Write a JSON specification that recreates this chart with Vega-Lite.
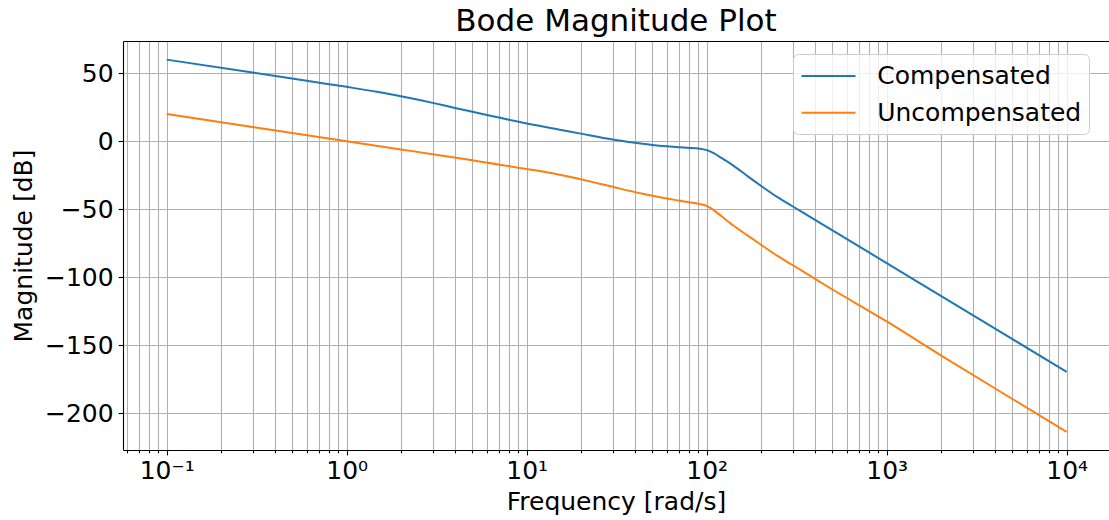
{
  "$schema": "https://vega.github.io/schema/vega-lite/v6.json",
  "width": 986,
  "height": 409,
  "autosize": {"type": "none"},
  "padding": {"left": 123, "top": 41, "right": 0, "bottom": 70},
  "title": {
    "text": "Bode Magnitude Plot",
    "font": "DejaVu Sans",
    "fontSize": 31,
    "fontWeight": "normal",
    "color": "black",
    "baseline": "bottom",
    "offset": 2,
    "dy": 30
  },
  "config": {
    "view": {"stroke": null},
    "font": "DejaVu Sans",
    "background": "white"
  },
  "data": {
    "values": [
      {"w": 0.1, "mag": 60.0, "series": "Compensated"},
      {"w": 0.3, "mag": 50.5, "series": "Compensated"},
      {"w": 0.6, "mag": 44.4, "series": "Compensated"},
      {"w": 1, "mag": 40.0, "series": "Compensated"},
      {"w": 1.5, "mag": 36.2, "series": "Compensated"},
      {"w": 2, "mag": 33.1, "series": "Compensated"},
      {"w": 3, "mag": 28.2, "series": "Compensated"},
      {"w": 4, "mag": 24.5, "series": "Compensated"},
      {"w": 5, "mag": 21.7, "series": "Compensated"},
      {"w": 7, "mag": 17.4, "series": "Compensated"},
      {"w": 10, "mag": 13.0, "series": "Compensated"},
      {"w": 15, "mag": 8.7, "series": "Compensated"},
      {"w": 20, "mag": 5.6, "series": "Compensated"},
      {"w": 30, "mag": 1.3, "series": "Compensated"},
      {"w": 40, "mag": -1.1, "series": "Compensated"},
      {"w": 50, "mag": -2.7, "series": "Compensated"},
      {"w": 60, "mag": -3.7, "series": "Compensated"},
      {"w": 70, "mag": -4.4, "series": "Compensated"},
      {"w": 80, "mag": -4.9, "series": "Compensated"},
      {"w": 90, "mag": -5.4, "series": "Compensated"},
      {"w": 100, "mag": -6.5, "series": "Compensated"},
      {"w": 110, "mag": -9.0, "series": "Compensated"},
      {"w": 120, "mag": -12.1, "series": "Compensated"},
      {"w": 140, "mag": -17.7, "series": "Compensated"},
      {"w": 170, "mag": -26.0, "series": "Compensated"},
      {"w": 200, "mag": -32.7, "series": "Compensated"},
      {"w": 250, "mag": -41.5, "series": "Compensated"},
      {"w": 300, "mag": -47.8, "series": "Compensated"},
      {"w": 400, "mag": -57.8, "series": "Compensated"},
      {"w": 500, "mag": -65.5, "series": "Compensated"},
      {"w": 1000, "mag": -89.6, "series": "Compensated"},
      {"w": 2000, "mag": -113.7, "series": "Compensated"},
      {"w": 5000, "mag": -145.5, "series": "Compensated"},
      {"w": 10000, "mag": -169.6, "series": "Compensated"},
      {"w": 0.1, "mag": 20.0, "series": "Uncompensated"},
      {"w": 0.3, "mag": 10.5, "series": "Uncompensated"},
      {"w": 1, "mag": 0.0, "series": "Uncompensated"},
      {"w": 2, "mag": -6.0, "series": "Uncompensated"},
      {"w": 3, "mag": -9.5, "series": "Uncompensated"},
      {"w": 5, "mag": -14.0, "series": "Uncompensated"},
      {"w": 10, "mag": -20.4, "series": "Uncompensated"},
      {"w": 15, "mag": -24.5, "series": "Uncompensated"},
      {"w": 20, "mag": -28.0, "series": "Uncompensated"},
      {"w": 25, "mag": -31.0, "series": "Uncompensated"},
      {"w": 30, "mag": -33.5, "series": "Uncompensated"},
      {"w": 40, "mag": -37.4, "series": "Uncompensated"},
      {"w": 50, "mag": -40.1, "series": "Uncompensated"},
      {"w": 60, "mag": -42.1, "series": "Uncompensated"},
      {"w": 70, "mag": -43.6, "series": "Uncompensated"},
      {"w": 80, "mag": -44.9, "series": "Uncompensated"},
      {"w": 90, "mag": -46.0, "series": "Uncompensated"},
      {"w": 100, "mag": -47.5, "series": "Uncompensated"},
      {"w": 110, "mag": -50.8, "series": "Uncompensated"},
      {"w": 120, "mag": -54.8, "series": "Uncompensated"},
      {"w": 140, "mag": -61.8, "series": "Uncompensated"},
      {"w": 170, "mag": -69.6, "series": "Uncompensated"},
      {"w": 200, "mag": -76.0, "series": "Uncompensated"},
      {"w": 250, "mag": -84.7, "series": "Uncompensated"},
      {"w": 300, "mag": -91.0, "series": "Uncompensated"},
      {"w": 400, "mag": -101.2, "series": "Uncompensated"},
      {"w": 500, "mag": -109.0, "series": "Uncompensated"},
      {"w": 1000, "mag": -132.5, "series": "Uncompensated"},
      {"w": 2000, "mag": -157.4, "series": "Uncompensated"},
      {"w": 5000, "mag": -189.5, "series": "Uncompensated"},
      {"w": 10000, "mag": -213.7, "series": "Uncompensated"}
    ]
  },
  "encoding": {
    "y": {
      "field": "mag",
      "type": "quantitative",
      "scale": {"domain": [-227, 73.7], "nice": false, "zero": false},
      "axis": {
        "title": "Magnitude [dB]",
        "values": [50, 0, -50, -100, -150, -200],
        "grid": true,
        "gridColor": "#b0b0b0",
        "gridWidth": 1.1,
        "domainColor": "black",
        "domainWidth": 1.1,
        "tickColor": "black",
        "tickSize": 4.9,
        "tickWidth": 1.1,
        "labelFont": "DejaVu Sans",
        "labelFontSize": 25,
        "labelColor": "black",
        "labelPadding": 5,
        "titleFont": "DejaVu Sans",
        "titleFontSize": 25,
        "titleFontWeight": "normal",
        "titleColor": "black",
        "titlePadding": 8
      }
    }
  },
  "layer": [
    {
      "mark": {"type": "line", "strokeWidth": 2, "interpolate": "monotone"},
      "encoding": {
        "x": {
          "field": "w",
          "type": "quantitative",
          "scale": {"type": "log", "domain": [0.05719, 17187], "nice": false},
          "axis": {
            "title": "Frequency [rad/s]",
            "values": [0.06, 0.07, 0.08, 0.09, 0.1, 0.2, 0.3, 0.4, 0.5, 0.6, 0.7, 0.8, 0.9, 1, 2, 3, 4, 5, 6, 7, 8, 9, 10, 20, 30, 40, 50, 60, 70, 80, 90, 100, 200, 300, 400, 500, 600, 700, 800, 900, 1000, 2000, 3000, 4000, 5000, 6000, 7000, 8000, 9000, 10000],
            "labelExpr": "abs(log(datum.value)/LN10 - round(log(datum.value)/LN10)) < 0.001 ? '10' + ['⁻¹','⁰','¹','²','³','⁴'][round(log(datum.value)/LN10) + 1] : ''",
            "labelOverlap": false,
            "labelFlush": false,
            "labelBound": false,
            "grid": true,
            "gridColor": "#b0b0b0",
            "gridWidth": 1.1,
            "domainColor": "black",
            "domainWidth": 1.1,
            "tickColor": "black",
            "tickWidth": 1.1,
            "tickSize": {"condition": {"test": "abs(log(datum.value)/LN10 - round(log(datum.value)/LN10)) < 0.001", "value": 4.9}, "value": 2.8},
            "labelFont": "DejaVu Sans",
            "labelFontSize": 25,
            "labelColor": "black",
            "labelPadding": 4,
            "titleFont": "DejaVu Sans",
            "titleFontSize": 25,
            "titleFontWeight": "normal",
            "titleColor": "black",
            "titlePadding": 6
          }
        },
        "color": {
          "field": "series",
          "type": "nominal",
          "scale": {"domain": ["Compensated", "Uncompensated"], "range": ["#1f77b4", "#ff7f0e"]},
          "legend": {
            "title": null,
            "orient": "none",
            "legendX": 670,
            "legendY": 13,
            "symbolType": "M-1,0H3",
            "symbolSize": 729,
            "symbolStrokeWidth": 2,
            "labelFont": "DejaVu Sans",
            "labelFontSize": 25,
            "labelColor": "black",
            "labelOffset": 47.7,
            "labelLimit": 400,
            "padding": 7.5,
            "rowPadding": 8.7,
            "strokeColor": "#cccccc",
            "fillColor": "rgba(255,255,255,0.8)",
            "cornerRadius": 5
          }
        }
      }
    },
    {
      "mark": {"type": "line", "opacity": 0},
      "encoding": {
        "x": {
          "field": "w",
          "type": "quantitative",
          "scale": {"type": "log", "domain": [0.05719, 17187], "nice": false},
          "axis": {
            "orient": "top",
            "title": null,
            "labels": false,
            "ticks": false,
            "grid": false,
            "domain": true,
            "domainColor": "black",
            "domainWidth": 1.1
          }
        }
      }
    }
  ],
  "resolve": {"axis": {"x": "independent"}}
}
